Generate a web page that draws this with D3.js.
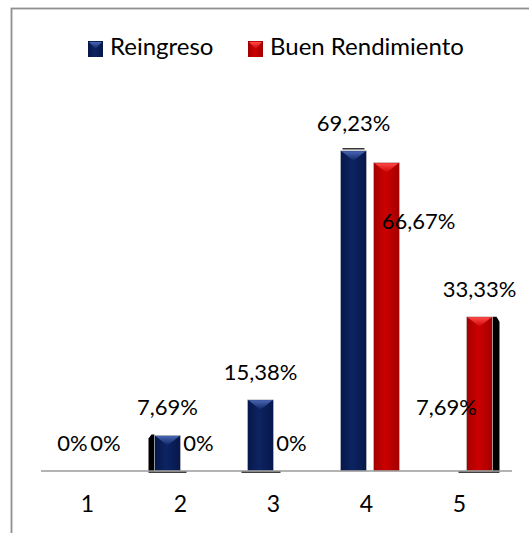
<!DOCTYPE html>
<html>
<head>
<meta charset="utf-8">
<script src="https://cdn.jsdelivr.net/npm/d3@7"></script>
<style>
  body { margin: 0; background: #fff; }
  svg { display: block; font-family: Lato, "Open Sans", sans-serif; }
</style>
</head>
<body>
<div id="wrapper"></div>
<script>
// data
const categories = ["1", "2", "3", "4", "5"]
const seriesNames = ["Reingreso", "Buen Rendimiento"]
const reingreso = [0, 7.69, 15.38, 69.23, 7.69]
const buenRendimiento = [0, 0, 0, 66.67, 33.33]
const labelText = {
  "Reingreso": ["0%", "7,69%", "15,38%", "69,23%", "7,69%"],
  "Buen Rendimiento": ["0%", "0%", "0%", "66,67%", "33,33%"],
}

function drawChart() {
  const dimensions = {
    width: 529,
    height: 533,
    margin: {top: 101, left: 41, right: 17, bottom: 62},
  }
  dimensions.boundedWidth = dimensions.width - dimensions.margin.left - dimensions.margin.right
  dimensions.boundedHeight = dimensions.height - dimensions.margin.top - dimensions.margin.bottom

  const colors = {"Reingreso": "#0d2462", "Buen Rendimiento": "#cc0000"}
  const lightTop = {"Reingreso": "#4966b4", "Buen Rendimiento": "#ff4a4a"}
  const darkEdge = {"Reingreso": "#06174a", "Buen Rendimiento": "#a20000"}

  const rows = []
  seriesNames.forEach((s, si) => {
    const vals = si == 0 ? reingreso : buenRendimiento
    categories.forEach((c, i) => rows.push({series: s, cat: c, value: vals[i], label: labelText[s][i]}))
  })

  const wrapper = d3.select("#wrapper").append("svg")
      .attr("width", dimensions.width)
      .attr("height", dimensions.height)

  // gradients for the bevelled bars
  const defs = wrapper.append("defs")
  seriesNames.forEach((s, i) => {
    const g = defs.append("linearGradient").attr("id", "body" + i)
    g.append("stop").attr("offset", "0%").attr("stop-color", darkEdge[s])
    g.append("stop").attr("offset", "45%").attr("stop-color", colors[s])
    g.append("stop").attr("offset", "100%").attr("stop-color", darkEdge[s])
    const t = defs.append("linearGradient").attr("id", "top" + i)
        .attr("x1", 0).attr("x2", 0).attr("y1", 0).attr("y2", 1)
    t.append("stop").attr("offset", "0%").attr("stop-color", lightTop[s])
    t.append("stop").attr("offset", "100%").attr("stop-color", colors[s])
  })

  // chart frame (runs past the right and bottom edges)
  wrapper.append("rect")
      .attr("x", 11.5).attr("y", 8.5)
      .attr("width", 700).attr("height", 700)
      .attr("fill", "none")
      .attr("stroke", "#8f8f8f")
      .attr("stroke-width", 1.8)

  const bounds = wrapper.append("g")
      .attr("transform", `translate(${dimensions.margin.left},${dimensions.margin.top})`)

  // scales
  const xScale = d3.scaleBand()
      .domain(categories)
      .range([0, dimensions.boundedWidth - 6])

  const xInner = d3.scaleBand()
      .domain(seriesNames)
      .range([-26, 33])
      .paddingInner(0.2121)

  const yScale = d3.scaleLinear()
      .domain([0, 80])
      .range([dimensions.boundedHeight, 0])

  const barX = d => xScale(d.cat) + xScale.bandwidth() / 2 + xInner(d.series)
  const bw = xInner.bandwidth()
  const base = yScale(0)

  // the Reingreso bar of category 5 has no fill in the original
  const hidden = d => d.series == "Reingreso" && d.cat == "5"

  // odd black 3D shadows of the original
  const shadows = [
    {series: "Reingreso", cat: "2", side: "left"},
    {series: "Buen Rendimiento", cat: "5", side: "right"},
  ]
  shadows.forEach(sh => {
    const d = rows.find(r => r.series == sh.series && r.cat == sh.cat)
    const x0 = barX(d), top = yScale(d.value)
    const sx = sh.side == "left" ? x0 - 6 : x0 + bw
    bounds.append("path")
        .attr("d", sh.side == "left"
          ? `M${sx},${top + 3}L${sx + 3},${top - 1}L${sx + 6},${top - 1}L${sx + 6},${base}L${sx},${base}Z`
          : `M${sx},${top}L${sx + 4},${top}L${sx + 7},${top + 5}L${sx + 7},${base}L${sx},${base}Z`)
        .attr("fill", "#000")
    bounds.append("line")
        .attr("x1", sh.side == "left" ? sx : x0 - 8).attr("x2", sh.side == "left" ? x0 + bw + 6 : sx + 7)
        .attr("y1", base + 1).attr("y2", base + 1)
        .attr("stroke", "#000").attr("stroke-width", 1.5)
  })
  {
    const d = rows.find(r => r.series == "Reingreso" && r.cat == "3")
    bounds.append("line")
        .attr("x1", barX(d) - 6).attr("x2", barX(d) + bw + 7)
        .attr("y1", base + 1).attr("y2", base + 1)
        .attr("stroke", "#000").attr("stroke-width", 1.5)
    const d4 = rows.find(r => r.series == "Reingreso" && r.cat == "4")
    bounds.append("line")
        .attr("x1", barX(d4) + 2).attr("x2", barX(d4) + bw - 2)
        .attr("y1", yScale(d4.value) - 2).attr("y2", yScale(d4.value) - 2)
        .attr("stroke", "#000").attr("stroke-width", 1.2)
  }

  // bars
  const bars = bounds.selectAll(".bar")
      .data(rows.filter(d => d.value > 0 && !hidden(d)))
      .enter().append("g")
          .attr("class", "bar")

  bars.append("rect")
      .attr("x", barX)
      .attr("y", d => yScale(d.value))
      .attr("width", bw)
      .attr("height", d => base - yScale(d.value))
      .attr("fill", d => `url(#body${seriesNames.indexOf(d.series)})`)
      .attr("stroke", "#c8c8c8")
      .attr("stroke-width", 0.6)

  bars.append("path")
      .attr("d", d => {
        const x0 = barX(d), top = yScale(d.value)
        return `M${x0 + 1},${top + 0.5}L${x0 + bw - 1},${top + 0.5}L${x0 + bw / 2},${top + 10}Z`
      })
      .attr("fill", d => `url(#top${seriesNames.indexOf(d.series)})`)

  // axis
  const xAxisGenerator = d3.axisBottom()
      .scale(xScale)
      .tickSize(0)
      .tickPadding(25)

  const xAxis = bounds.append("g")
      .attr("transform", `translate(0,${base})`)
      .call(xAxisGenerator)
  xAxis.select(".domain").remove()
  xAxis.selectAll("text")
      .attr("font-size", 23)
      .attr("font-family", "Lato, sans-serif")
      .attr("fill", "#000")
  xAxis.append("line")
      .attr("x1", 0).attr("x2", dimensions.boundedWidth)
      .attr("y1", 0).attr("y2", 0)
      .attr("stroke", "#9a9a9a")
      .attr("stroke-width", 1.5)

  // data labels (the 66,67% one was dragged down in the original)
  const moved = d => d.series == "Buen Rendimiento" && d.cat == "4"
  bounds.selectAll(".label")
      .data(rows)
      .enter().append("text")
          .attr("class", "label")
          .attr("x", d => barX(d) + bw / 2 + (moved(d) ? 32 : 0) + (d.value == 0 ? -2 : 0))
          .attr("y", d => yScale(d.value) - 20 + (moved(d) ? 86 : 0))
          .attr("text-anchor", "middle")
          .attr("font-size", 22)
          .attr("fill", "#000")
          .text(d => d.label)

  // legend
  const legend = wrapper.append("g")
      .attr("transform", "translate(88,41)")
  const legendX = [0, 160]
  seriesNames.forEach((s, i) => {
    const item = legend.append("g").attr("transform", `translate(${legendX[i]},0)`)
    item.append("rect")
        .attr("width", 15).attr("height", 16)
        .attr("fill", `url(#body${i})`)
    item.append("path")
        .attr("d", "M1,1L14,1L7.5,8Z")
        .attr("fill", `url(#top${i})`)
    item.append("text")
        .attr("x", 22).attr("y", 14)
        .attr("font-size", 24)
        .attr("fill", "#000")
        .text(s)
  })
}
drawChart()
</script>
</body>
</html>
